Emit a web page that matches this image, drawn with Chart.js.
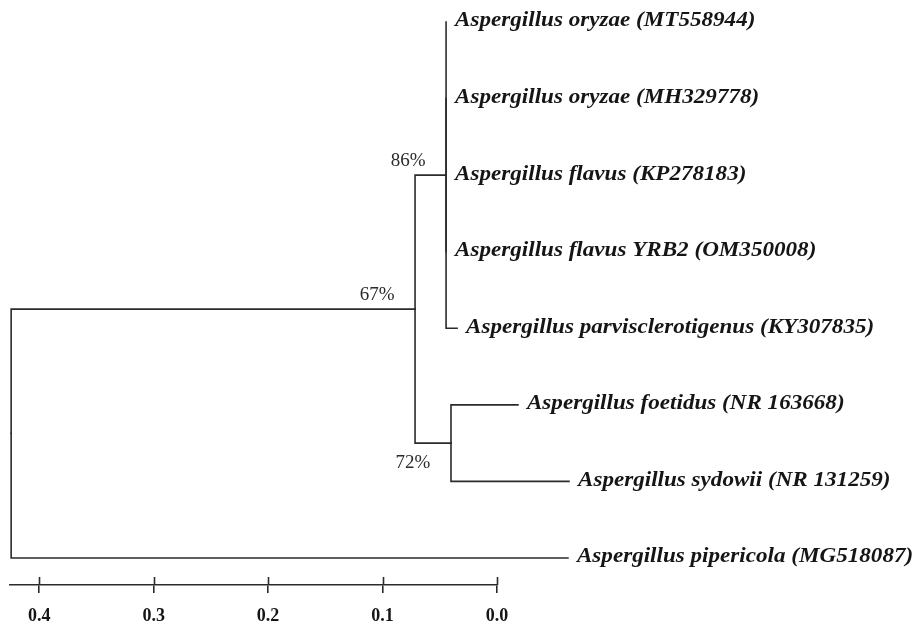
<!DOCTYPE html>
<html>
<head>
<meta charset="utf-8">
<script src="https://cdn.jsdelivr.net/npm/chart.js@4.4.0/dist/chart.umd.min.js"></script>
<style>
  html, body { margin: 0; padding: 0; background: #fff; }
  #wrap { width: 920px; height: 627px; position: relative; }
</style>
</head>
<body>
<div id="wrap"><canvas id="tree"></canvas></div>
<script>
// Tips (top to bottom), their position on the distance scale and their parent node
const tipNames = [
    'Aspergillus oryzae (MT558944)',
    'Aspergillus oryzae (MH329778)',
    'Aspergillus flavus (KP278183)',
    'Aspergillus flavus YRB2 (OM350008)',
    'Aspergillus parvisclerotigenus (KY307835)',
    'Aspergillus foetidus (NR 163668)',
    'Aspergillus sydowii (NR 131259)',
    'Aspergillus pipericola (MG518087)'
];
const tipPos = [0.0445, 0.0445, 0.0445, 0.0445, 0.0349, -0.0183, -0.0629, -0.0620];
const tipParent = ['n86', 'n86', 'n86', 'n86', 'n86', 'n72', 'n72', 'root'];

// Internal nodes
const nodeIds = ['root', 'n67', 'n86', 'n72'];
const nodePos = [0.4245, 0.0716, 0.0445, 0.0402];
const nodeParent = [null, 'root', 'n67', 'n67'];
const nodeSupport = ['', '67%', '86%', '72%'];

// Scale bar ticks
const scaleTicks = [0.4, 0.3, 0.2, 0.1, 0.0];

const INK = '#2b2b2b';

// Row (vertical position) of each node = middle of its children
function nodeRow(id) {
    const rows = [];
    tipParent.forEach((p, i) => { if (p === id) rows.push(i); });
    nodeParent.forEach((p, i) => { if (p === id) rows.push(nodeRow(nodeIds[i])); });
    return (Math.min(...rows) + Math.max(...rows)) / 2;
}
const nodeInfo = {};
nodeIds.forEach((id, i) => { nodeInfo[id] = { x: nodePos[i], y: nodeRow(id) }; });

// Elbow branches: along the parent's vertical, then across to the child
function branch(parentId, x, y) {
    const p = nodeInfo[parentId];
    return {
        data: [{ x: p.x, y: p.y }, { x: p.x, y: y }, { x: x, y: y }],
        showLine: true,
        borderColor: INK,
        borderWidth: 1.6,
        borderCapStyle: 'square',
        borderJoinStyle: 'miter',
        pointRadius: 0,
        pointHoverRadius: 0,
        clip: false
    };
}
const datasets = [];
tipNames.forEach((n, i) => datasets.push(branch(tipParent[i], tipPos[i], i)));
nodeIds.forEach((id, i) => {
    if (nodeParent[i]) datasets.push(branch(nodeParent[i], nodePos[i], nodeInfo[id].y));
});

// Labels, bootstrap values and crossing scale ticks
const treeText = {
    id: 'treeText',
    afterDatasetsDraw(chart) {
        const { ctx, scales: { x, y } } = chart;
        ctx.save();
        ctx.fillStyle = '#151515';
        ctx.font = 'italic bold 21px "Liberation Serif", "Times New Roman", serif';
        ctx.textAlign = 'left';
        ctx.textBaseline = 'middle';
        tipNames.forEach((name, i) => {
            const tx = x.getPixelForValue(tipPos[i]) + 9;
            const ty = y.getPixelForValue(i) - 1;
            // the original type is set a little wide
            ctx.setTransform(1.1, 0, 0, 1, tx, ty);
            ctx.fillText(name, 0, 0);
        });
        ctx.setTransform(1, 0, 0, 1, 0, 0);

        ctx.fillStyle = INK;
        ctx.font = '19px "Liberation Serif", "Times New Roman", serif';
        ctx.textAlign = 'center';
        nodeIds.forEach((id, i) => {
            if (!nodeSupport[i]) return;
            const px = x.getPixelForValue(nodePos[i]);
            const py = y.getPixelForValue(nodeInfo[id].y);
            const dy = id === 'n72' ? 20 : -14;
            ctx.fillText(nodeSupport[i], px - 38, py + dy);
        });

        // upper half of the scale ticks
        ctx.strokeStyle = INK;
        ctx.lineWidth = 1.6;
        x.ticks.forEach(t => {
            const px = Math.round(x.getPixelForValue(t.value)) + 0.5;
            ctx.beginPath();
            ctx.moveTo(px, chart.chartArea.bottom - 8);
            ctx.lineTo(px, chart.chartArea.bottom);
            ctx.stroke();
        });
        ctx.restore();
    }
};

new Chart(document.getElementById('tree'), {
    type: 'scatter',
    data: { datasets },
    options: {
        responsive: true,
        maintainAspectRatio: false,
        animation: false,
        layout: { padding: { left: 10, right: 423, top: 22, bottom: 0 } },
        plugins: {
            legend: { display: false },
            tooltip: { enabled: false }
        },
        scales: {
            x: {
                type: 'linear',
                position: 'bottom',
                reverse: true,
                min: 0,
                max: 0.4255,
                afterFit: s => { s.height = 42; },
                afterBuildTicks: s => { s.ticks = scaleTicks.map(v => ({ value: v })); },
                border: { display: true, color: INK, width: 1.6 },
                grid: { display: true, drawOnChartArea: false, drawTicks: true, tickLength: 8, color: INK, lineWidth: 1.6 },
                ticks: {
                    padding: 13,
                    color: '#151515',
                    font: { family: '"Liberation Serif", "Times New Roman", serif', size: 18, weight: 'bold' },
                    maxRotation: 0,
                    callback: v => v.toFixed(1)
                }
            },
            y: {
                type: 'linear',
                display: false,
                reverse: true,
                min: 0,
                max: 7.353
            }
        }
    },
    plugins: [treeText]
});
</script>
</body>
</html>
